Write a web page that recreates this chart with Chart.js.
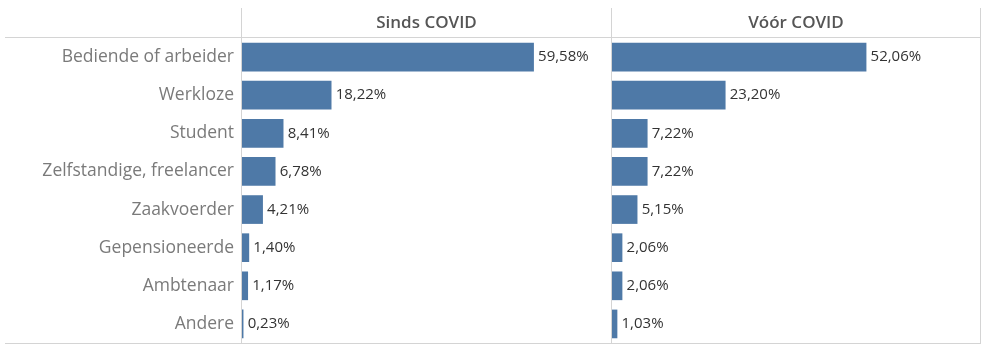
<!DOCTYPE html>
<html><head><meta charset="utf-8">
<script src="https://cdn.jsdelivr.net/npm/chart.js@4.4.1/dist/chart.umd.min.js"></script>
<style>
html,body{margin:0;padding:0;background:#fff;}
#wrap{position:relative;width:990px;height:353px;overflow:hidden;}
#c1{position:absolute;left:0;top:0;}
#c2{position:absolute;left:611px;top:0;}
</style></head><body>
<div id="wrap"><canvas id="c1" width="611" height="353"></canvas><canvas id="c2" width="379" height="353"></canvas></div>
<script>
const categories = ['Bediende of arbeider','Werkloze','Student','Zelfstandige, freelancer','Zaakvoerder','Gepensioneerde','Ambtenaar','Andere'];
const sindsCovid = [59.58, 18.22, 8.41, 6.78, 4.21, 1.40, 1.17, 0.23];
const voorCovid = [52.06, 23.20, 7.22, 7.22, 5.15, 2.06, 2.06, 1.03];
const panelTitles = ['Sinds COVID', 'Vóór COVID'];

const FONT = '"Open Sans"';
const BAR = '#4e79a7';
const LINE = '#d4d4d4';
const XMAX = 75.4;

const valueLabels = {
  id: 'valueLabels',
  afterDatasetsDraw(chart) {
    const ctx = chart.ctx;
    const meta = chart.getDatasetMeta(0);
    const data = chart.data.datasets[0].data;
    ctx.save();
    ctx.font = '15px ' + FONT;
    ctx.fillStyle = '#333333';
    ctx.textBaseline = 'middle';
    ctx.textAlign = 'left';
    meta.data.forEach((bar, i) => {
      const txt = data[i].toFixed(2).replace('.', ',') + '%';
      ctx.fillText(txt, bar.x + 4.5, bar.y);
    });
    ctx.restore();
  }
};

function frameLines(isLeft) {
  return {
    id: 'frameLines',
    beforeDatasetsDraw(chart) {
      const ctx = chart.ctx;
      const a = chart.chartArea;
      ctx.save();
      ctx.strokeStyle = LINE;
      ctx.lineWidth = 1;
      ctx.beginPath();
      const x0 = isLeft ? 5 : 0;
      const x1 = isLeft ? chart.width : a.right + 1;
      ctx.moveTo(x0, a.top - 0.5); ctx.lineTo(x1, a.top - 0.5);
      ctx.moveTo(x0, a.bottom + 0.5); ctx.lineTo(x1, a.bottom + 0.5);
      ctx.moveTo(a.left - 0.5, 8); ctx.lineTo(a.left - 0.5, a.bottom + 1);
      if (!isLeft) { ctx.moveTo(a.right + 0.5, 8); ctx.lineTo(a.right + 0.5, a.bottom + 1); }
      ctx.stroke();
      ctx.restore();
    }
  };
}

function makeChart(id, values, title, isLeft) {
  return new Chart(document.getElementById(id), {
    type: 'bar',
    data: { labels: categories, datasets: [{ data: values, backgroundColor: BAR, borderWidth: 0, barThickness: 28 }] },
    options: {
      indexAxis: 'y',
      responsive: false,
      animation: false,
      devicePixelRatio: 1,
      layout: { padding: { left: isLeft ? 5 : 1, right: isLeft ? 0 : 10, top: 8, bottom: 10 } },
      plugins: { legend: { display: false }, tooltip: { enabled: false } },
      scales: {
        x: {
          position: 'top', min: 0, max: XMAX,
          grid: { display: false, drawTicks: false }, border: { display: false },
          ticks: { display: false },
          title: { display: true, text: title, color: '#555555', font: { family: FONT, size: 17, weight: '600' }, padding: { top: 5, bottom: 0 } },
          afterFit(s) { s.height = 30; s.paddingLeft = 0; s.paddingRight = 0; }
        },
        y: {
          display: isLeft,
          grid: { display: false, drawTicks: false }, border: { display: false },
          ticks: { color: '#7a7a7a', font: { family: FONT, size: 17.5 }, padding: 8 },
          afterFit(s) { if (isLeft) s.width = 237; s.paddingTop = 0; s.paddingBottom = 0; }
        }
      }
    },
    plugins: [frameLines(isLeft), valueLabels]
  });
}

makeChart('c1', sindsCovid, panelTitles[0], true);
makeChart('c2', voorCovid, panelTitles[1], false);
</script>
</body></html>
